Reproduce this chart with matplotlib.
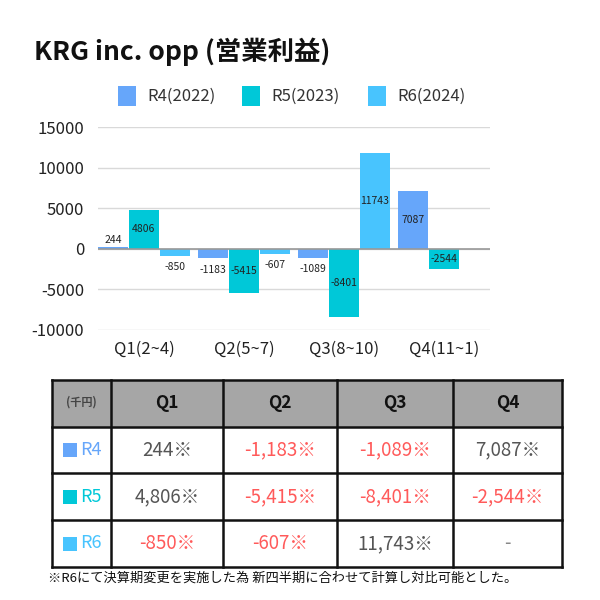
import matplotlib
matplotlib.use("Agg")
import matplotlib.pyplot as plt
from matplotlib.patches import Rectangle

plt.rcParams['font.family'] = ['Noto Sans CJK JP', 'DejaVu Sans']

title = "KRG inc. opp (営業利益)"
categories = ["Q1(2~4)", "Q2(5~7)", "Q3(8~10)", "Q4(11~1)"]
series_names = ["R4(2022)", "R5(2023)", "R6(2024)"]
row_labels = ["R4", "R5", "R6"]
col_labels = ["Q1", "Q2", "Q3", "Q4"]
r4 = [244, -1183, -1089, 7087]
r5 = [4806, -5415, -8401, -2544]
r6 = [-850, -607, 11743, None]
colors = ["#66a6fa", "#00c8d8", "#48c4fe"]
yticks = [-10000, -5000, 0, 5000, 10000, 15000]
footnote = "※R6にて決算期変更を実施した為 新四半期に合わせて計算し対比可能とした。"

W, H = 600, 600
fig = plt.figure(figsize=(6, 6), dpi=100)

def fx(px):
    return px / W

def fy(py):
    return 1 - py / H

# title
fig.text(fx(34), fy(52), title, fontsize=19, fontweight='bold', va='center', ha='left', color='#111111')

# legend
leg_x = [118, 242, 368]
for i, name in enumerate(series_names):
    fig.patches.append(Rectangle((fx(leg_x[i]), fy(106)), fx(18), 20 / H, transform=fig.transFigure,
                                 facecolor=colors[i], edgecolor='none'))
    fig.text(fx(leg_x[i] + 29), fy(96), name, fontsize=12, va='center', ha='left', color='#333333')

# bar chart
ax = fig.add_axes([fx(98), fy(330), fx(490 - 98), (330 - 127) / H])
series = [r4, r5, r6]
bw = 0.3
offs = [-0.31, 0.0, 0.31]
for si, vals in enumerate(series):
    for ci, v in enumerate(vals):
        if v is None:
            continue
        x = ci + offs[si]
        ax.bar(x, v, width=bw, color=colors[si], zorder=3)
        if abs(v) < 2000:
            y = v + 800 if v > 0 else v - 1400
        else:
            y = v / 2
        ax.text(x, y, str(v), ha='center', va='center', fontsize=7.5, color='#222222', zorder=4)

ax.set_xlim(-0.46, 3.46)
ax.set_ylim(-10000, 15000)
ax.set_yticks(yticks)
ax.set_yticklabels([str(t) for t in yticks], fontsize=12, color='#222222')
ax.set_xticks(range(len(categories)))
ax.set_xticklabels(categories, fontsize=12, color='#222222')
ax.tick_params(axis='both', length=0, pad=10)
ax.tick_params(axis='x', pad=8)
for s in ax.spines.values():
    s.set_visible(False)
ax.grid(axis='y', color='#d9d9d9', linewidth=1, zorder=0)
ax.axhline(0, color='#999999', linewidth=1.2, zorder=5)

# table
ov = fig.add_axes([0, 0, 1, 1])
ov.set_xlim(0, W)
ov.set_ylim(H, 0)
ov.axis('off')

col_x = [52, 111, 223, 337, 453, 562]
row_y = [380, 427, 473, 520, 567]
ov.add_patch(Rectangle((col_x[0], row_y[0]), col_x[-1] - col_x[0], row_y[1] - row_y[0],
                       facecolor='#a6a6a6', edgecolor='none'))
for x in col_x:
    ov.plot([x, x], [row_y[0], row_y[-1]], color='#111111', linewidth=1.8, solid_capstyle='projecting')
for y in row_y:
    ov.plot([col_x[0], col_x[-1]], [y, y], color='#111111', linewidth=1.8, solid_capstyle='projecting')

ov.text((col_x[0] + col_x[1]) / 2, (row_y[0] + row_y[1]) / 2 - 1, "(千円)", fontsize=8,
        ha='center', va='center', color='#444444', fontweight='bold')
for j, c in enumerate(col_labels):
    ov.text((col_x[j + 1] + col_x[j + 2]) / 2, (row_y[0] + row_y[1]) / 2, c, fontsize=12.5,
            fontweight='bold', ha='center', va='center', color='#111111')

for i, (lab, vals) in enumerate(zip(row_labels, series)):
    yc = (row_y[i + 1] + row_y[i + 2]) / 2
    ov.add_patch(Rectangle((63, yc - 7), 14, 14, facecolor=colors[i], edgecolor='none'))
    ov.text(80, yc, lab, fontsize=13, ha='left', va='center', color=colors[i])
    for j, v in enumerate(vals):
        xc = (col_x[j + 1] + col_x[j + 2]) / 2
        if v is None:
            ov.text(xc, yc, "-", fontsize=13.5, ha='center', va='center', color='#888888')
        else:
            ov.text(xc, yc, f"{v:,}※", fontsize=13.5, ha='center', va='center',
                    color='#ff5a5a' if v < 0 else '#555555')

ov.text(48, 578, footnote, fontsize=9.5, ha='left', va='center', color='#111111')

fig.savefig("out.png", dpi=100, facecolor='white')
